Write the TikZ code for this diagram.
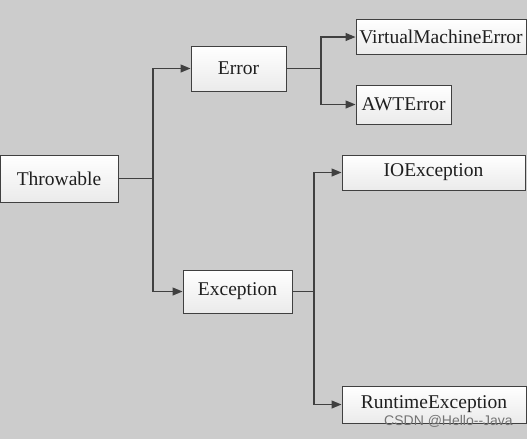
\documentclass[tikz,border=0pt]{standalone}
\usepackage{fontspec}
\setmainfont{Liberation Serif}
\newfontfamily\wmfont{Liberation Sans}
\usetikzlibrary{arrows.meta}
\definecolor{bg}{HTML}{CCCCCC}
\definecolor{edge}{HTML}{404040}
\begin{document}
\begin{tikzpicture}[x=1pt,y=-1pt,
  cls/.style={draw=edge, line width=1pt, top color=white, bottom color=black!8, inner sep=0pt, font=\fontsize{19.5}{20}\selectfont, text=black!88},
  conn/.style={draw=edge, line width=1.2pt},
  arr/.style={conn, -{Triangle[length=10pt,width=8pt]}}]
\fill[bg] (0,0) rectangle (527,439);
\useasboundingbox (0,0) rectangle (527,439);
\node[cls, minimum width=118pt, minimum height=47pt] (thr) at (59,178.5) {Throwable};
\node[cls, minimum width=95pt, minimum height=45pt] (err) at (238.5,68.5) {Error};
\node[cls, minimum width=109pt, minimum height=43pt] (exc) at (237.5,291.5) {Exception};
\node[cls, minimum width=170pt, minimum height=35pt] (vme) at (441,37) {VirtualMachineError};
\node[cls, minimum width=95pt, minimum height=39pt] (awt) at (403.5,104.5) {AWTError};
\node[cls, minimum width=183pt, minimum height=35pt] (ioe) at (433.5,172.5) {IOException};
\node[cls, minimum width=184pt, minimum height=37pt] (rte) at (434,404.5) {RuntimeException};
\coordinate (j1) at (153,178.5);
\coordinate (j2) at (321,68.5);
\coordinate (j3) at (314,291.5);
\draw[conn] (thr.east) -- (j1);
\draw[arr] (j1) |- (err.west);
\draw[arr] (j1) |- (exc.west);
\draw[conn] (err.east) -- (j2);
\draw[arr] (j2) |- (vme.west);
\draw[arr] (j2) |- (awt.west);
\draw[conn] (exc.east) -- (j3);
\draw[arr] (j3) |- (ioe.west);
\draw[arr] (j3) |- (rte.west);
\node[font=\wmfont\fontsize{14}{15}\selectfont, text=black!55, inner sep=0pt] (wm) at (448.5,421) {CSDN @Hello--Java};
\end{tikzpicture}
\end{document}
